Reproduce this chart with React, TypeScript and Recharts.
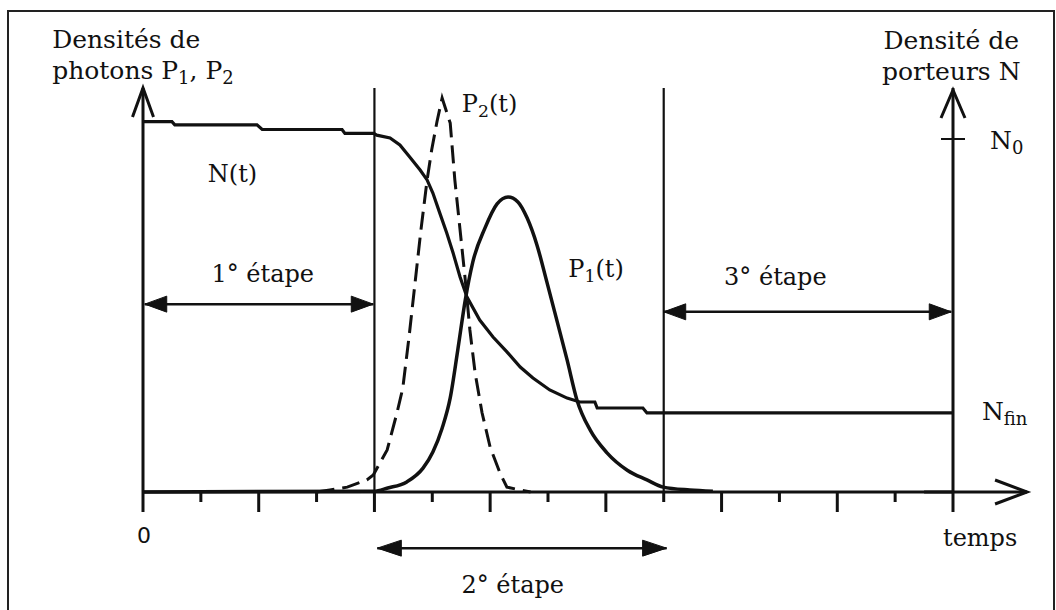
import { Line, LineChart, ReferenceDot, ReferenceLine, XAxis, YAxis } from "recharts"

// time axis in tick units (one tick = one step of the grid)
const timeTicks = [0, 1, 2, 3, 4, 5, 6, 7, 8, 9, 10, 11, 12, 13, 14]
const timeTickLabels = ["0", "", "", "", "", "", "", "", "", "", "", "", "", "", "temps"]

// carrier density N(t), N0 = 1
const nTime = [0, 0.5, 0.55, 1.97, 2.06, 3.44, 3.49, 3.99, 4.04, 4.27, 4.44, 4.61, 4.79, 4.91, 5.01, 5.13, 5.25, 5.36, 5.48, 5.6, 5.82, 6.05, 6.29, 6.52, 6.74, 7.03, 7.33, 7.55, 7.81, 7.85, 8.64, 8.71, 14]
const nValues = [1.049, 1.049, 1.04, 1.04, 1.027, 1.027, 1.016, 1.016, 1.011, 1.003, 0.983, 0.949, 0.912, 0.884, 0.847, 0.79, 0.734, 0.677, 0.609, 0.552, 0.487, 0.439, 0.397, 0.354, 0.323, 0.289, 0.266, 0.255, 0.255, 0.238, 0.238, 0.224, 0.224]
const nTicks = [1]
const nTickLabel = ["N", "0"]

// photon densities (arbitrary units, 0..100)
const p1Time = [0, 3.99, 4.23, 4.56, 4.84, 5.01, 5.17, 5.31, 5.44, 5.57, 5.7, 5.91, 6.12, 6.31, 6.48, 6.64, 6.81, 6.98, 7.16, 7.33, 7.5, 7.73, 8.02, 8.37, 8.71, 8.99, 9.45, 9.85]
const p1Values = [0, 0.2, 1.0, 2.5, 5.9, 9.9, 15.8, 23.3, 35.1, 47.5, 56.9, 65.3, 71.3, 73.0, 71.8, 67.8, 61.1, 52.0, 42.1, 32.7, 22.8, 15.3, 9.7, 5.4, 3.0, 1.2, 0.5, 0.2]

const p2Time = [3.0, 3.23, 3.53, 3.87, 3.98, 4.22, 4.39, 4.49, 4.6, 4.7, 4.8, 4.91, 4.99, 5.08, 5.17, 5.31, 5.39, 5.48, 5.57, 5.65, 5.74, 5.86, 6.0, 6.17, 6.29, 6.52, 6.7]
const p2Values = [0, 0.5, 1.2, 3.0, 4.2, 10.4, 19.6, 25.7, 38.6, 51.5, 64.4, 77.2, 84.7, 91.6, 97.5, 91.3, 77.2, 64.9, 52.5, 40.1, 29.5, 19.6, 11.1, 4.7, 1.2, 0.5, 0]

const zip = (ts: number[], vs: number[]) => ts.map((t, i) => ({ t, v: vs[i] }))
const nData = zip(nTime, nValues)
const p1Data = zip(p1Time, p1Values)
const p2Data = zip(p2Time, p2Values)

const INK = "#111"
const SERIF = "'DejaVu Serif', serif"

type Pt = { x: number; y: number }

function headPoints(tip: Pt, from: Pt, len: number, hw: number) {
  const dx = from.x - tip.x
  const dy = from.y - tip.y
  const d = Math.hypot(dx, dy) || 1
  const ux = dx / d
  const uy = dy / d
  const bx = tip.x + ux * len
  const by = tip.y + uy * len
  return `${bx - uy * hw},${by + ux * hw} ${tip.x},${tip.y} ${bx + uy * hw},${by - ux * hw}`
}

type ArrowOpts = { line?: boolean; start?: boolean; end?: boolean; filled?: boolean; len: number; hw: number; width: number }

function arrowShape(o: ArrowOpts) {
  return (p: any) => {
    const a = { x: p.x1, y: p.y1 }
    const b = { x: p.x2, y: p.y2 }
    const head = (tip: Pt, from: Pt) =>
      o.filled ? (
        <polygon points={headPoints(tip, from, o.len, o.hw)} fill={INK} stroke={INK} strokeWidth={1} />
      ) : (
        <polyline points={headPoints(tip, from, o.len, o.hw)} fill="none" stroke={INK} strokeWidth={o.width} />
      )
    return (
      <g>
        {o.line !== false && <line x1={a.x} y1={a.y} x2={b.x} y2={b.y} stroke={INK} strokeWidth={o.width} />}
        {o.start && head(a, b)}
        {o.end && head(b, a)}
      </g>
    )
  }
}

// each line: alternating normal / subscript parts
function textLabel(lines: string[][], anchor: "start" | "middle" = "start", size = 24, gap = 31) {
  return (p: any) => {
    const vb = p.viewBox || {}
    const x = (vb.x ?? 0) + (vb.width ?? 0) / 2
    const y = (vb.y ?? 0) + (vb.height ?? 0) / 2
    return (
      <g>
        {lines.map((line, i) => (
          <text key={i} x={x} y={y + i * gap} textAnchor={anchor} fontFamily={SERIF} fontSize={size} fill={INK}>
            {line.map((s, j) => (
              <tspan key={j} fontSize={j % 2 ? size * 0.72 : size} dy={j === 0 ? 0 : j % 2 ? 5 : -5}>
                {s}
              </tspan>
            ))}
          </text>
        ))}
      </g>
    )
  }
}

const TimeTick = (p: any) => {
  const { x, y, payload, index } = p
  const long = payload.value % 2 === 0
  const label = timeTickLabels[index] ?? ""
  return (
    <g>
      <line x1={x} x2={x} y1={y} y2={y + (long ? 20 : 10)} stroke={INK} strokeWidth={3} />
      {label === "0" && (
        <text x={x + 1} y={y + 51} textAnchor="middle" fontFamily="'DejaVu Sans', sans-serif" fontSize={22} fill={INK}>
          {label}
        </text>
      )}
      {label !== "0" && label !== "" && (
        <text x={x - 10} y={y + 54} textAnchor="start" fontFamily={SERIF} fontSize={24} fill={INK}>
          {label}
        </text>
      )}
    </g>
  )
}

const NTick = (p: any) => {
  const { x, y } = p
  return (
    <g>
      <line x1={x - 12} x2={x + 12} y1={y} y2={y} stroke={INK} strokeWidth={2} />
      <text x={x + 37} y={y + 10} fontFamily={SERIF} fontSize={25} fill={INK}>
        {nTickLabel[0]}
        <tspan fontSize={18} dy={5}>{nTickLabel[1]}</tspan>
      </text>
    </g>
  )
}

const dotProps = { r: 0, yAxisId: "P", fill: "none", stroke: "none", ifOverflow: "visible" as const }

export default function App() {
  return (
    <div style={{ position: "fixed", left: 0, top: 0, width: 1056, height: 610, background: "#fff", overflow: "hidden" }}>
      <div
        style={{
          position: "absolute",
          left: 7,
          top: 10,
          width: 1044,
          height: 640,
          borderTop: "2px solid #222",
          borderLeft: "2px solid #222",
          borderRight: "2px solid #222",
        }}
      />
      <div style={{ position: "absolute", left: 0, top: 0 }}>
        <LineChart width={1056} height={610} margin={{ top: 88, right: 102, bottom: 88, left: 142 }}>
          <XAxis
            type="number"
            dataKey="t"
            domain={[0, 14]}
            ticks={timeTicks}
            interval={0}
            height={30}
            tickSize={0}
            tickMargin={0}
            tickLine={false}
            tick={<TimeTick />}
            axisLine={{ stroke: INK, strokeWidth: 3 }}
          />
          <YAxis yAxisId="P" type="number" domain={[0, 100]} width={1} tickLine={false} tick={false} axisLine={{ stroke: INK, strokeWidth: 3 }} />
          <YAxis
            yAxisId="N"
            type="number"
            orientation="right"
            domain={[0, 1.1445]}
            ticks={nTicks}
            width={1}
            tickSize={0}
            tickMargin={0}
            tickLine={false}
            tick={<NTick />}
            axisLine={{ stroke: INK, strokeWidth: 3 }}
          />

          {/* stage boundaries */}
          <ReferenceLine x={4} yAxisId="P" stroke={INK} strokeWidth={2.2} />
          <ReferenceLine x={9} yAxisId="P" stroke={INK} strokeWidth={2.2} />

          {/* axis arrowheads */}
          <ReferenceLine
            yAxisId="P"
            ifOverflow="visible"
            segment={[{ x: 0, y: 95 }, { x: 0, y: 100 }]}
            shape={arrowShape({ line: false, end: true, len: 29, hw: 10.5, width: 3 })}
          />
          <ReferenceLine
            yAxisId="P"
            ifOverflow="visible"
            segment={[{ x: 14, y: 95 }, { x: 14, y: 99.5 }]}
            shape={arrowShape({ line: false, end: true, len: 28, hw: 12, width: 3 })}
          />
          <ReferenceLine
            yAxisId="P"
            ifOverflow="visible"
            segment={[{ x: 13.5, y: 0 }, { x: 15.28, y: 0 }]}
            shape={arrowShape({ end: true, len: 32, hw: 12, width: 3 })}
          />

          {/* stage arrows */}
          <ReferenceLine
            yAxisId="P"
            ifOverflow="visible"
            segment={[{ x: 0.03, y: 46.5 }, { x: 3.98, y: 46.5 }]}
            shape={arrowShape({ start: true, end: true, filled: true, len: 22, hw: 8, width: 2.5 })}
          />
          <ReferenceLine
            yAxisId="P"
            ifOverflow="visible"
            segment={[{ x: 9.0, y: 44.6 }, { x: 13.97, y: 44.6 }]}
            shape={arrowShape({ start: true, end: true, filled: true, len: 22, hw: 8, width: 2.5 })}
          />
          <ReferenceLine
            yAxisId="P"
            ifOverflow="visible"
            segment={[{ x: 4.05, y: -13.9 }, { x: 9.05, y: -13.9 }]}
            shape={arrowShape({ start: true, end: true, filled: true, len: 24, hw: 8, width: 2.5 })}
          />

          <Line
            data={nData}
            yAxisId="N"
            dataKey="v"
            name="N(t)"
            type="linear"
            stroke={INK}
            strokeWidth={3.2}
            dot={false}
            activeDot={false}
            isAnimationActive={false}
          />
          <Line
            data={p1Data}
            yAxisId="P"
            dataKey="v"
            name="P1(t)"
            type="monotone"
            stroke={INK}
            strokeWidth={3.5}
            dot={false}
            activeDot={false}
            isAnimationActive={false}
          />
          <Line
            data={p2Data}
            yAxisId="P"
            dataKey="v"
            name="P2(t)"
            type="linear"
            stroke={INK}
            strokeWidth={3}
            strokeDasharray="18 8"
            dot={false}
            activeDot={false}
            isAnimationActive={false}
          />

          {/* text annotations */}
          <ReferenceDot {...dotProps} x={-1.57} y={109.9} label={textLabel([["Densités de"], ["photons P", "1", ", P", "2"]], "start", 25)} />
          <ReferenceDot {...dotProps} x={13.97} y={109.7} label={textLabel([["Densité de"], ["porteurs N"]], "middle", 25)} />
          <ReferenceDot {...dotProps} x={1.12} y={76.7} label={textLabel([["N(t)"]])} />
          <ReferenceDot {...dotProps} x={5.51} y={94.1} label={textLabel([["P", "2", "(t)"]])} />
          <ReferenceDot {...dotProps} x={7.35} y={53.2} label={textLabel([["P", "1", "(t)"]])} />
          <ReferenceDot {...dotProps} x={2.07} y={52.0} label={textLabel([["1° étape"]], "middle")} />
          <ReferenceDot {...dotProps} x={10.93} y={51.2} label={textLabel([["3° étape"]], "middle")} />
          <ReferenceDot {...dotProps} x={6.39} y={-25.0} label={textLabel([["2° étape"]], "middle")} />
          <ReferenceDot {...dotProps} x={14.5} y={17.8} label={textLabel([["N", "fin"]], "start", 25)} />
        </LineChart>
      </div>
    </div>
  )
}
